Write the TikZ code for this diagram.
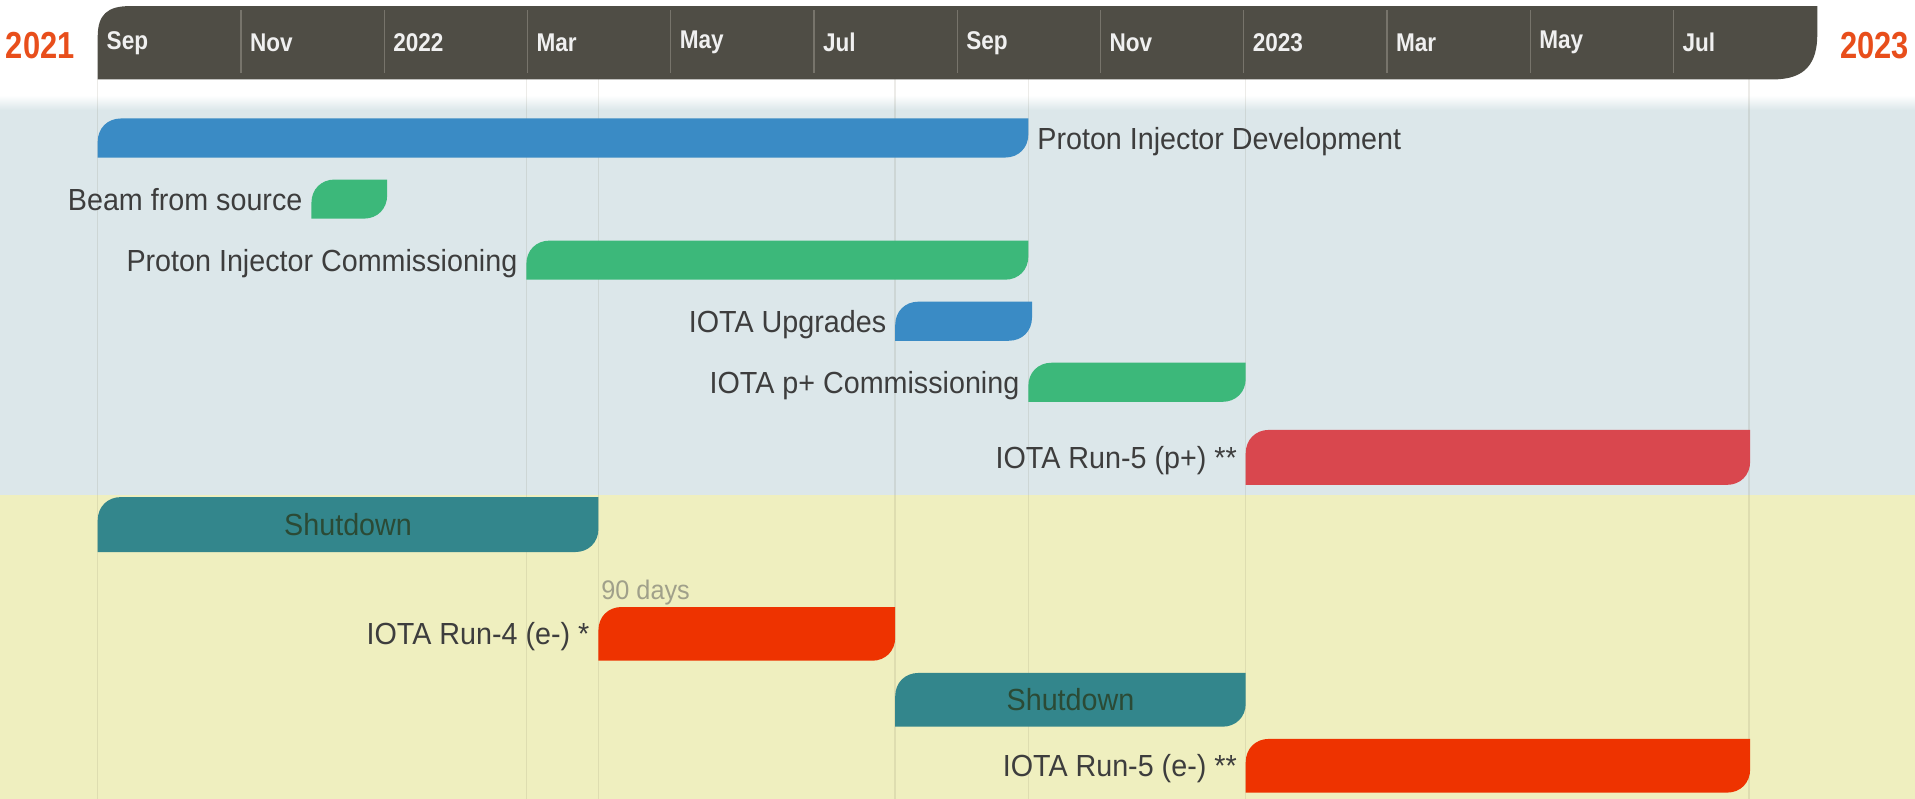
\documentclass[tikz,border=0pt]{standalone}
\usepackage{fontspec}
\newfontfamily\lblfont{Liberation Sans}[FakeStretch=0.94]
\newfontfamily\hdrfont{Liberation Sans}[FakeStretch=0.88]
\newfontfamily\yearfont{Liberation Sans}[FakeStretch=0.82]
\definecolor{hdr}{HTML}{4F4D45}
\definecolor{hdrline}{HTML}{77746B}
\definecolor{yearc}{HTML}{E84E1B}
\definecolor{bblue}{HTML}{3A8BC5}
\definecolor{bgreen}{HTML}{3CB87A}
\definecolor{bred}{HTML}{D9474E}
\definecolor{borange}{HTML}{EE3300}
\definecolor{bteal}{HTML}{33868C}
\definecolor{bgblue}{HTML}{DCE7EA}
\definecolor{bgyellow}{HTML}{EFEFBF}
\definecolor{lblc}{HTML}{3D3D3D}
\definecolor{shutc}{HTML}{2B4A35}
\definecolor{daysc}{HTML}{A0A08A}
\tikzset{
  lbl/.style={font=\lblfont\fontsize{12.5}{14}\selectfont, text=lblc, inner sep=0pt},
  hdrlbl/.style={font=\hdrfont\bfseries\fontsize{10.5}{12}\selectfont, text=white!94!black, inner sep=0pt, anchor=west},
  yearlbl/.style={font=\yearfont\bfseries\fontsize{15.4}{17}\selectfont, text=yearc, inner sep=0pt},
  gridline/.style={draw=black!70!yellow, opacity=0.12, line width=0.6pt},
  sepline/.style={draw=hdrline, line width=0.5pt},
}
% bar with rounded top-left and bottom-right corners
\newcommand\ganttbar[6]{%
  \fill[#6] (#2,#5) -- (#2,{#3+19}) .. controls (#2,{#3+8}) and ({#2+8},#3) .. ({#2+19},#3)
    -- (#4,#3) -- (#4,{#5-19}) .. controls (#4,{#5-8}) and ({#4-8},#5) .. ({#4-19},#5) -- cycle;
  \coordinate (#1w) at (#2,{(#3+#5)/2});
  \coordinate (#1e) at (#4,{(#3+#5)/2});
  \coordinate (#1c) at ({(#2+#4)/2},{(#3+#5)/2});
}
\begin{document}
\begin{tikzpicture}[x=0.5pt,y=-0.5pt]
\useasboundingbox (0,0) rectangle (1568,654);
% backgrounds
\fill[white] (0,0) rectangle (1568,84);
\shade[top color=white, bottom color=bgblue] (0,78) rectangle (1568,90);
\fill[bgblue] (0,90) rectangle (1568,405);
\fill[bgyellow] (0,405) rectangle (1568,654);
% grid lines
\foreach \gx in {80,431,490,733,842,1020,1432}
  \draw[gridline] (\gx,65) -- (\gx,654);
% header
\fill[hdr] (80,65) -- (80,30) .. controls (80,12) and (88,5) .. (106,5)
  -- (1488,5) -- (1488,28) .. controls (1488,52) and (1478,65) .. (1452,65) -- cycle;
\foreach \k in {1,...,11}
  \draw[sepline] ({80+117.3*\k},8) -- ({80+117.3*\k},60);
\foreach \lab [count=\k from 0] in {Sep,Nov,2022,Mar,May,Jul,Sep,Nov,2023,Mar,May,Jul}
  \node[hdrlbl] (h\k) at ({87+117.3*\k},35) {\lab};
\node[yearlbl] (y1) at (33,37) {2021};
\node[yearlbl] (y2) at (1535,37) {2023};
% bars
\ganttbar{b1}{80}{97}{842}{129}{bblue}
\ganttbar{b2}{255}{147}{317}{179}{bgreen}
\ganttbar{b3}{431}{197}{842}{229}{bgreen}
\ganttbar{b4}{733}{247}{845}{279}{bblue}
\ganttbar{b5}{842}{297}{1020}{329}{bgreen}
\ganttbar{b6}{1020}{352}{1433}{397}{bred}
\ganttbar{b7}{80}{407}{490}{452}{bteal}
\ganttbar{b8}{490}{497}{733}{541}{borange}
\ganttbar{b9}{733}{551}{1020}{595}{bteal}
\ganttbar{b10}{1020}{605}{1433}{649}{borange}
% labels
\node[lbl, anchor=base west] (l1) at ([xshift=3.5pt,yshift=-4.5pt]b1e) {Proton Injector Development};
\node[lbl, anchor=base east] (l2) at ([xshift=-3.5pt,yshift=-4.5pt]b2w) {Beam from source};
\node[lbl, anchor=base east] (l3) at ([xshift=-3.5pt,yshift=-4.5pt]b3w) {Proton Injector Commissioning};
\node[lbl, anchor=base east] (l4) at ([xshift=-3.5pt,yshift=-4.5pt]b4w) {IOTA Upgrades};
\node[lbl, anchor=base east] (l5) at ([xshift=-3.5pt,yshift=-4.5pt]b5w) {IOTA p+ Commissioning};
\node[lbl, anchor=base east] (l6) at ([xshift=-3.5pt,yshift=-4.5pt]b6w) {IOTA Run-5 (p+) **};
\node[lbl, anchor=base, text=shutc] (l7) at ([yshift=-4.5pt]b7c) {Shutdown};
\node[lbl, anchor=base, text=shutc] (l9) at ([yshift=-4.5pt]b9c) {Shutdown};
\node[lbl, anchor=base east] (l8) at ([xshift=-3.5pt,yshift=-4.5pt]b8w) {IOTA Run-4 (e-) *};
\node[lbl, anchor=base east] (l10) at ([xshift=-3.5pt,yshift=-4.5pt]b10w) {IOTA Run-5 (e-) **};
\node[lbl, anchor=base west, text=daysc, font=\lblfont\fontsize{11}{13}\selectfont] (d8) at (492,491) {90 days};
\end{tikzpicture}
\end{document}
